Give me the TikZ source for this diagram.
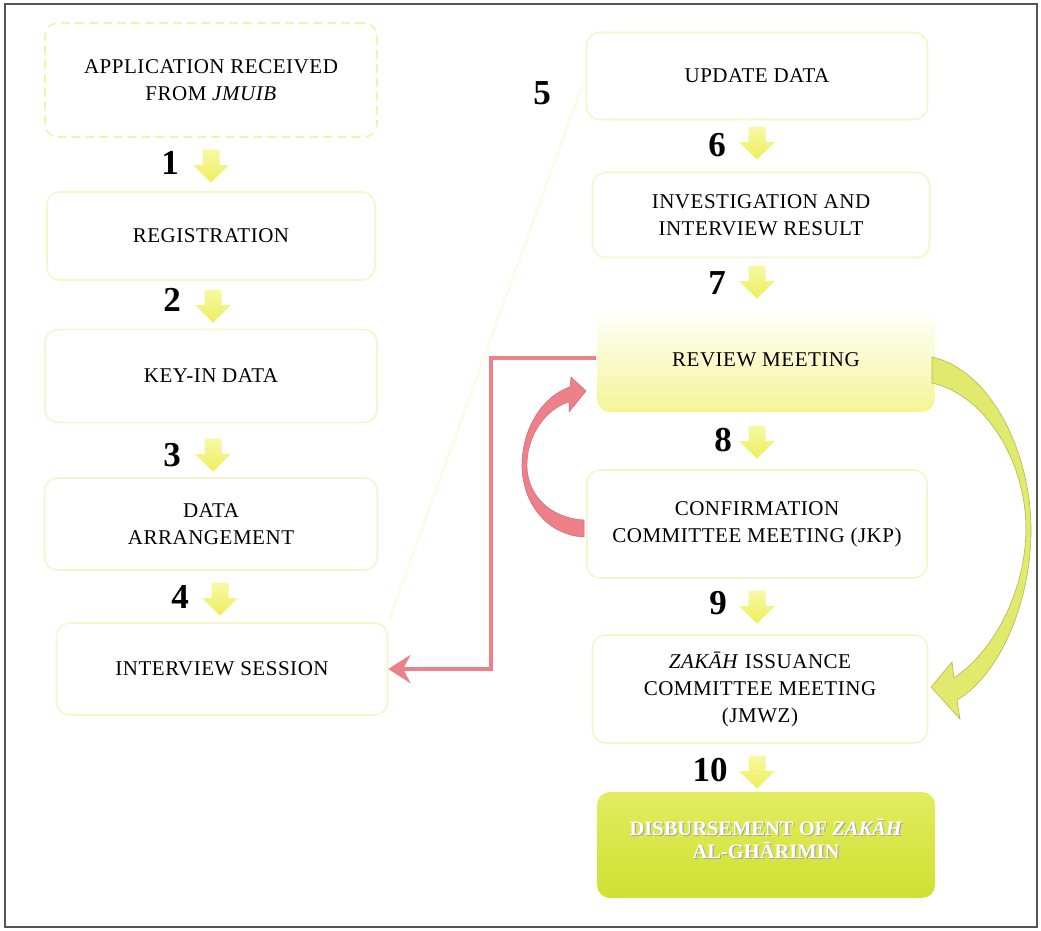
\documentclass[tikz,border=0pt]{standalone}
\usepackage{fontspec}
\setmainfont{Liberation Serif}
\newfontfamily\boxface[LetterSpace=2.5]{Liberation Serif}
\usetikzlibrary{arrows.meta,calc}

\definecolor{boxline}{RGB}{246,246,205}
\definecolor{dashline}{RGB}{244,241,170}
\definecolor{arrowtop}{RGB}{248,248,165}
\definecolor{arrowbot}{RGB}{238,238,92}
\definecolor{reviewbot}{RGB}{244,245,150}
\definecolor{disbtop}{RGB}{226,236,95}
\definecolor{disbbot}{RGB}{208,224,50}
\definecolor{loopred}{RGB}{238,128,138}
\definecolor{loopredline}{RGB}{205,105,115}
\definecolor{jumpgreen}{RGB}{226,234,110}
\definecolor{jumpgreenline}{RGB}{175,185,80}
\definecolor{faintlink}{RGB}{252,252,230}
\definecolor{framegray}{RGB}{85,85,85}

\newcommand{\boxfont}{\boxface\fontsize{21}{27}\selectfont}
\newcommand{\numfont}{\fontsize{35}{36}\selectfont\bfseries}

% small block arrow pointing down, centred on a named coordinate
\newcommand{\steparrow}[2]{%
  \coordinate (#1) at #2;
  \shade[top color=arrowtop, bottom color=arrowbot]
    ($(#1)+(-8.5,-16.5)$) -- ($(#1)+(8.5,-16.5)$) -- ($(#1)+(8.5,-1)$)
    -- ($(#1)+(18,-1)$) -- ($(#1)+(0,16.5)$) -- ($(#1)+(-18,-1)$)
    -- ($(#1)+(-8.5,-1)$) -- cycle;}

\tikzset{
  stepbox/.style={draw=boxline, line width=1.6pt, rounded corners=13pt,
    align=center, font=\boxfont, inner sep=0pt},
  stepnum/.style={font=\numfont, inner sep=0pt},
}

\begin{document}
\begin{tikzpicture}[x=1pt,y=-1pt]
\useasboundingbox (0,0) rectangle (1041,930);
\fill[white] (0,0) rectangle (1041,930);
\draw[framegray, line width=1.6pt] (5,4) rectangle (1037,927);

% left column
\node[stepbox, draw=dashline, dash pattern=on 9pt off 5pt,
      minimum width=332pt, minimum height=114pt] (appl) at (211,80)
      {APPLICATION RECEIVED\\FROM \textit{JMUIB}};
\node[stepbox, minimum width=328pt, minimum height=88pt] (reg) at (211,236) {REGISTRATION};
\node[stepbox, minimum width=332pt, minimum height=93pt] (keyin) at (211,376) {KEY-IN DATA};
\node[stepbox, minimum width=333pt, minimum height=92pt] (arr) at (211,524) {DATA\\ARRANGEMENT};
\node[stepbox, minimum width=331pt, minimum height=92pt] (interview) at (222,669) {INTERVIEW SESSION};

% right column
\node[stepbox, minimum width=341pt, minimum height=87pt] (update) at (757,76) {UPDATE DATA};
\node[stepbox, minimum width=337pt, minimum height=85pt] (invest) at (761,215) {INVESTIGATION AND\\INTERVIEW RESULT};
\node[stepbox, draw=none, top color=white, bottom color=reviewbot,
      minimum width=338pt, minimum height=104pt] (review) at (766,360) {REVIEW MEETING};
\node[stepbox, minimum width=340pt, minimum height=108pt] (confirm) at (757,524)
      {CONFIRMATION\\COMMITTEE MEETING (JKP)};
\node[stepbox, minimum width=335pt, minimum height=108pt] (zakah) at (760,689)
      {\textit{ZAKĀH} ISSUANCE\\COMMITTEE MEETING\\(JMWZ)};
\node[stepbox, draw=none, top color=disbtop, bottom color=disbbot,
      minimum width=338pt, minimum height=106pt] (disb) at (766,845) {};
\node[align=center, font=\fontsize{20.5}{23}\selectfont\bfseries, text=black!35,
      inner sep=0pt] (disbshadow) at ($(disb.center)+(1.2,-4.8)$)
      {DISBURSEMENT OF \textit{ZAKĀH}\\AL-GHĀRIMIN};
\node[align=center, font=\fontsize{20.5}{23}\selectfont\bfseries, text=white,
      inner sep=0pt] (disbtext) at ($(disb.center)+(0,-6)$)
      {DISBURSEMENT OF \textit{ZAKĀH}\\AL-GHĀRIMIN};

% faint link from the interview step up to the update step
\draw[faintlink, line width=2.5pt, shorten <=4pt, shorten >=10pt]
  (interview.north east) -- (update.west);

% step arrows and numbers
\steparrow{a1}{(211,166)}
\steparrow{a2}{(213,306)}
\steparrow{a3}{(213,455)}
\steparrow{a4}{(220,599)}
\steparrow{a6}{(757,143)}
\steparrow{a7}{(757,282)}
\steparrow{a8}{(757,442)}
\steparrow{a9}{(757,607)}
\steparrow{a10}{(757,772)}

\node[stepnum] (n1) at (170,163) {1};
\node[stepnum] (n2) at (172,300) {2};
\node[stepnum] (n3) at (172,455) {3};
\node[stepnum] (n4) at (180,597) {4};
\node[stepnum] (n5) at (542,93) {5};
\node[stepnum] (n6) at (717,145) {6};
\node[stepnum] (n7) at (717,283) {7};
\node[stepnum] (n8) at (723,440) {8};
\node[stepnum] (n9) at (718,603) {9};
\node[stepnum] (n10) at (710,770) {10};

% return from review to interview
\draw[loopred, line width=4pt,
      -{Stealth[length=22pt, width=28pt, inset=7pt]}]
  ([yshift=2pt]review.west) -- ++(-105,0) |- (interview.east);

% curved block arrow: confirmation back to review
\filldraw[fill=loopred, draw=loopredline, line width=0.5pt]
  (584,537) .. controls (545,535) and (521,500) .. (522,463)
  .. controls (523,425) and (545,395) .. (570,387)
  -- (571,377) -- (586,391) -- (569,412) -- (569,402)
  .. controls (548,408) and (528,432) .. (527,463)
  .. controls (526,495) and (550,518) .. (584,520) -- cycle;

% curved block arrow: review straight to zakah issuance
\filldraw[fill=jumpgreen, draw=jumpgreenline, line width=0.6pt]
  (932,357) .. controls (990,370) and (1030,450) .. (1031,527)
  .. controls (1032,600) and (1000,675) .. (957,700)
  -- (960,719) -- (931,687) -- (952,662) -- (954,678)
  .. controls (995,650) and (1026,590) .. (1026,527)
  .. controls (1025,460) and (985,395) .. (932,383) -- cycle;
\end{tikzpicture}
\end{document}
